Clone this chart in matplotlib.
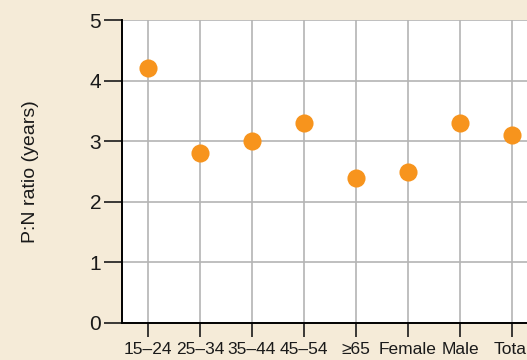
import matplotlib.pyplot as plt

groups = ["15\u201324", "25\u201334", "35\u201344", "45\u201354", "\u226565", "Female", "Male", "Total"]
pn_ratio = [4.2, 2.8, 3.0, 3.3, 2.4, 2.5, 3.3, 3.1]

plt.rcParams['font.family'] = ['Liberation Sans', 'DejaVu Sans']

bg = "#f5ebd8"
fig = plt.figure(figsize=(5.27, 3.6), dpi=100, facecolor=bg)
ax = fig.add_axes([122 / 527, 37 / 360, 416 / 527, 303 / 360])
ax.set_facecolor("white")

x = list(range(len(groups)))
ax.scatter(x, pn_ratio, s=170, color="#f7941d", zorder=3, linewidths=0)

ax.set_xlim(-0.5, 7.5)
ax.set_ylim(0, 5)
ax.set_xticks(x)
ax.set_xticklabels(groups, fontsize=12.5)
ax.set_yticks(range(6))
ax.tick_params(axis='y', labelsize=15, length=13, width=1.2, pad=2, colors="#1a1a1a")
ax.tick_params(axis='x', length=10, width=1.2, pad=4, colors="#1a1a1a")
ax.grid(color="#b4b4b4", linewidth=1.2)
ax.set_axisbelow(True)
ax.spines['top'].set_visible(False)
ax.spines['right'].set_visible(False)
ax.spines['left'].set_linewidth(1.4)
ax.spines['bottom'].set_linewidth(1.4)
ax.set_ylabel("P:N ratio (years)", fontsize=14, labelpad=36, color="#1a1a1a")

fig.savefig("out.png", dpi=100, facecolor=bg)
